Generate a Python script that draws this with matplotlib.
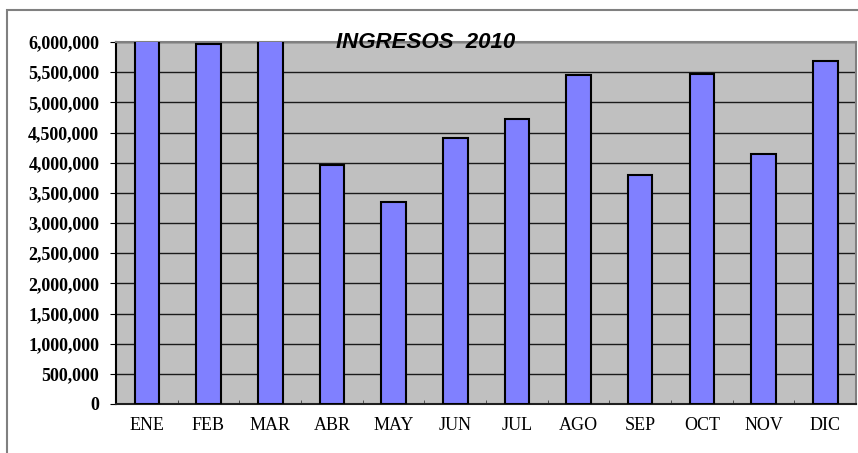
import matplotlib.pyplot as plt
import matplotlib.ticker as mticker
from matplotlib.patches import Rectangle
import numpy as np

# data (ENE and MAR go past the top of the axis in the original)
meses = ["ENE", "FEB", "MAR", "ABR", "MAY", "JUN", "JUL", "AGO", "SEP", "OCT", "NOV", "DIC"]
ingresos = [6300000, 5960000, 6400000, 3960000, 3340000, 4410000,
            4730000, 5450000, 3800000, 5470000, 4140000, 5690000]
titulo = "INGRESOS  2010"

fig = plt.figure(figsize=(8.58, 4.53), dpi=100)
fig.patch.set_facecolor("white")

# outer chart border (only top and left visible in the original crop)
fig.patches.append(Rectangle((7/858, -0.1), 1.2, 1 - 10/453 + 0.1, transform=fig.transFigure,
                             fill=False, edgecolor="#808080", linewidth=1.5))

ax = fig.add_axes([116/858, 49/453, 740/858, 362/453])
ax.set_facecolor("#C0C0C0")

x = np.arange(len(meses))
ax.bar(x, ingresos, width=0.4, color="#8080FF", edgecolor="black", linewidth=1.5, zorder=3)

ax.set_xlim(-0.5, len(meses) - 0.5)
ax.set_ylim(0, 6000000)
ax.yaxis.set_major_locator(mticker.MultipleLocator(500000))
ax.yaxis.set_major_formatter(mticker.FuncFormatter(lambda v, p: "{:,.0f}".format(v)))
ax.grid(axis="y", color="#1a1a1a", linewidth=1, zorder=1)

ax.set_xticks(x)
ax.set_xticklabels(meses, family="Liberation Serif", fontsize=13)
ax.set_xticks(np.arange(0.5, len(meses) - 1, 1), minor=True)
ax.tick_params(axis="x", which="major", length=0, pad=9)
ax.tick_params(axis="x", which="minor", direction="in", length=3, color="#404040")
ax.tick_params(axis="y", direction="out", length=4, pad=8)
for lab in ax.get_yticklabels():
    lab.set_family("Liberation Serif")
    lab.set_fontweight("bold")
    lab.set_fontsize(13)

ax.spines["left"].set_color("black")
ax.spines["bottom"].set_color("#202020")
ax.spines["top"].set_color("#808080")
ax.spines["right"].set_color("#808080")
for s in ax.spines.values():
    s.set_linewidth(1.5)

fig.text(426/858, 1 - 43/453, titulo, family="Liberation Sans", fontsize=16,
         fontweight="bold", fontstyle="italic", ha="center", va="center")

fig.savefig("out.png", dpi=100)
